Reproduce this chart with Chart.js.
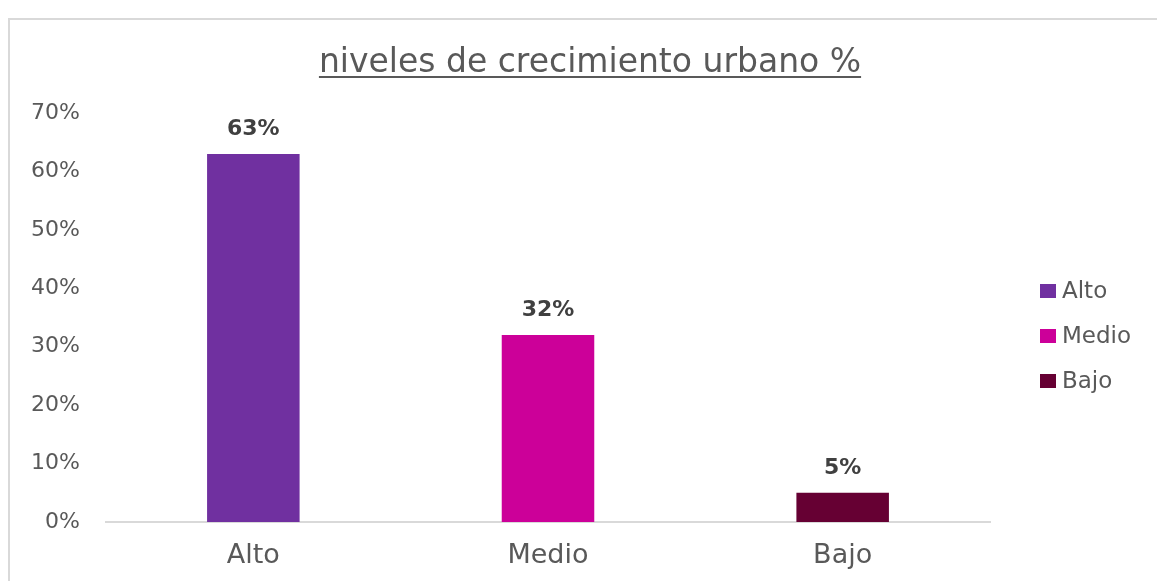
<!DOCTYPE html>
<html>
<head>
<meta charset="utf-8">
<script src="https://cdn.jsdelivr.net/npm/chart.js@4.4.1/dist/chart.umd.min.js"></script>
<style>
  html, body { margin: 0; padding: 0; background: #fff; }
  #wrap { width: 1157px; height: 581px; }
</style>
</head>
<body>
<div id="wrap"><canvas id="urbanChart" width="1157" height="581"></canvas></div>
<script>
// Data
const categories = ["Alto", "Medio", "Bajo"];
const growthValues = [0.63, 0.32, 0.05];
const barColors = ["#7030A0", "#CC0099", "#660033"];
const yTicks = [0, 0.1, 0.2, 0.3, 0.4, 0.5, 0.6, 0.7];
const chartTitle = "niveles de crecimiento urbano %";

const FONT = "'DejaVu Sans', sans-serif";
const pct = v => Math.round(v * 100) + "%";

// Frame, underlined title, custom legend and value labels
const decorPlugin = {
    id: 'decor',
    beforeDraw(chart) {
        const ctx = chart.ctx;
        ctx.save();
        ctx.fillStyle = '#fff';
        ctx.fillRect(0, 0, chart.width, chart.height);
        ctx.strokeStyle = '#d9d9d9';
        ctx.lineWidth = 2;
        ctx.beginPath();
        ctx.moveTo(9, chart.height);
        ctx.lineTo(9, 19);
        ctx.lineTo(chart.width, 19);
        ctx.stroke();
        ctx.restore();
    },
    afterDraw(chart) {
        const ctx = chart.ctx;
        ctx.save();

        // title with underline
        ctx.font = "33px " + FONT;
        ctx.fillStyle = '#595959';
        ctx.textAlign = 'center';
        ctx.textBaseline = 'alphabetic';
        const tx = 590, ty = 72;
        ctx.fillText(chartTitle, tx, ty);
        const w = ctx.measureText(chartTitle).width;
        ctx.fillRect(tx - w / 2, ty + 4, w, 2);

        // value labels above bars
        const meta = chart.getDatasetMeta(0);
        ctx.font = "bold 22px " + FONT;
        ctx.fillStyle = '#404040';
        ctx.textBaseline = 'middle';
        meta.data.forEach((bar, i) => {
            ctx.fillText(pct(growthValues[i]), bar.x, bar.y - 25);
        });

        // legend
        ctx.font = "23px " + FONT;
        ctx.textAlign = 'left';
        categories.forEach((c, i) => {
            const y = 291 + i * 45;
            ctx.fillStyle = barColors[i];
            ctx.fillRect(1040, y - 7, 16, 14);
            ctx.fillStyle = '#595959';
            ctx.fillText(c, 1062, y + 1);
        });
        ctx.restore();
    }
};

new Chart(document.getElementById('urbanChart'), {
    type: 'bar',
    data: {
        labels: categories,
        datasets: [{
            label: chartTitle,
            data: growthValues,
            backgroundColor: barColors,
            borderWidth: 0,
            barPercentage: 0.314,
            categoryPercentage: 1
        }]
    },
    options: {
        responsive: false,
        animation: false,
        layout: { padding: { top: 113, right: 167, left: 0, bottom: 0 } },
        plugins: {
            legend: { display: false },
            title: { display: false },
            tooltip: { enabled: false }
        },
        scales: {
            x: {
                grid: { display: false, drawTicks: false },
                border: { color: '#d9d9d9', width: 2 },
                ticks: {
                    color: '#595959',
                    font: { family: FONT, size: 27 },
                    padding: 18
                },
                afterFit: s => { s.height = 59; }
            },
            y: {
                min: 0,
                max: 0.7,
                afterBuildTicks: s => { s.ticks = yTicks.map(v => ({ value: v })); },
                grid: { display: false, drawTicks: false },
                border: { display: false },
                ticks: {
                    color: '#595959',
                    font: { family: FONT, size: 22 },
                    padding: 26,
                    callback: v => pct(v)
                },
                afterFit: s => { s.width = 106; }
            }
        }
    },
    plugins: [decorPlugin]
});
</script>
</body>
</html>
